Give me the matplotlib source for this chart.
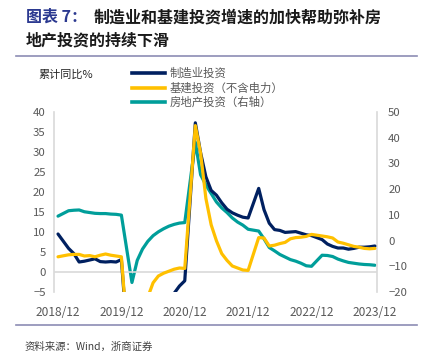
import matplotlib
matplotlib.use('Agg')
import matplotlib.pyplot as plt
from matplotlib.lines import Line2D

plt.rcParams['font.family'] = ['Noto Sans CJK SC', 'DejaVu Sans']

# months (cumulative data, no January)
months = ['2018-12',
          '2019-02', '2019-03', '2019-04', '2019-05', '2019-06', '2019-07', '2019-08', '2019-09', '2019-10', '2019-11', '2019-12',
          '2020-02', '2020-03', '2020-04', '2020-05', '2020-06', '2020-07', '2020-08', '2020-09', '2020-10', '2020-11', '2020-12',
          '2021-02', '2021-03', '2021-04', '2021-05', '2021-06', '2021-07', '2021-08', '2021-09', '2021-10', '2021-11', '2021-12',
          '2022-02', '2022-03', '2022-04', '2022-05', '2022-06', '2022-07', '2022-08', '2022-09', '2022-10', '2022-11', '2022-12',
          '2023-02', '2023-03', '2023-04', '2023-05', '2023-06', '2023-07', '2023-08', '2023-09', '2023-10', '2023-11', '2023-12']

manufacturing = [9.5,
                 5.9, 4.6, 2.5, 2.7, 3.0, 3.3, 2.6, 2.5, 2.6, 2.5, 3.1,
                 -31.5, -25.2, -18.8, -14.8, -11.7, -10.2, -8.1, -6.5, -5.3, -3.5, -2.2,
                 37.3, 29.8, 23.8, 20.4, 19.2, 17.3, 15.7, 14.8, 14.2, 13.7, 13.5,
                 20.9, 15.6, 12.2, 10.6, 10.4, 9.9, 10.0, 10.1, 9.7, 9.3, 9.1,
                 8.1, 7.0, 6.4, 6.0, 6.0, 5.7, 5.9, 6.2, 6.2, 6.3, 6.5]

infrastructure = [3.8,
                  4.3, 4.4, 4.4, 4.0, 4.1, 3.8, 4.2, 4.5, 4.2, 4.0, 3.8,
                  -30.3, -19.7, -11.8, -6.3, -2.7, -1.0, -0.3, 0.2, 0.7, 1.0, 0.9,
                  36.6, 29.7, 18.4, 11.8, 7.8, 4.6, 2.9, 1.5, 1.0, 0.5, 0.4,
                  8.6, 8.5, 6.5, 6.7, 7.1, 7.4, 8.3, 8.6, 8.7, 8.9, 9.4,
                  9.0, 8.8, 8.5, 7.5, 7.2, 6.8, 6.4, 6.2, 5.9, 5.8, 5.9]

real_estate = [9.5,
               11.6, 11.8, 11.9, 11.2, 10.9, 10.6, 10.5, 10.5, 10.3, 10.2, 9.9,
               -16.3, -7.7, -3.3, -0.3, 1.9, 3.4, 4.6, 5.6, 6.3, 6.8, 7.0,
               38.3, 25.6, 21.6, 18.3, 15.0, 12.7, 10.9, 8.8, 7.2, 6.0, 4.4,
               3.7, 0.7, -2.7, -4.0, -5.4, -6.4, -7.4, -8.0, -8.8, -9.8, -10.0,
               -5.7, -5.8, -6.2, -7.2, -7.9, -8.5, -8.8, -9.1, -9.3, -9.4, -9.6]

tick_labels = ['2018/12', '2019/12', '2020/12', '2021/12', '2022/12', '2023/12']

# month index from 2018/12
x = [(int(m[:4]) - 2018) * 12 + int(m[5:]) - 12 for m in months]

c_blue = '#002060'
c_yellow = '#FFC000'
c_teal = '#009E9A'
c_text = '#595959'

fig = plt.figure(figsize=(4.28, 3.53), dpi=100)
ax = fig.add_axes([54/428, 1-292/353, 323/428, 180/353])
ax2 = ax.twinx()

ax.plot(x, manufacturing, color=c_blue, lw=2.3, solid_capstyle='round', zorder=3)
ax.plot(x, infrastructure, color=c_yellow, lw=2.3, solid_capstyle='round', zorder=4)
ax2.plot(x, real_estate, color=c_teal, lw=2.3, solid_capstyle='round')
ax.set_zorder(2)
ax.patch.set_visible(False)

ax.set_ylim(-5, 40)
ax.set_yticks(range(-5, 41, 5))
ax2.set_ylim(-20, 50)
ax2.set_yticks(range(-20, 51, 10))
ax.set_xlim(-0.76, 60.4)
ax.set_xticks(range(0, 61, 12))
ax.set_xticklabels(tick_labels)

ax.axhline(0, color='#D9D9D9', lw=1.2, zorder=1)
for a in (ax, ax2):
    for s in a.spines.values():
        s.set_visible(False)
    a.tick_params(length=0, labelsize=8.2, colors=c_text)
ax.spines['left'].set_visible(True)
ax.spines['left'].set_color('#D9D9D9')
ax.spines['left'].set_linewidth(1.2)
ax2.spines['right'].set_visible(True)
ax2.spines['right'].set_color('#D9D9D9')
ax2.spines['right'].set_linewidth(1.2)
ax.tick_params(axis='x', labelsize=8.6, pad=10)
ax.tick_params(axis='y', pad=6)
ax2.tick_params(axis='y', pad=8)

# legend
handles = [Line2D([], [], color=c_blue, lw=2.6),
           Line2D([], [], color=c_yellow, lw=2.6),
           Line2D([], [], color=c_teal, lw=2.6)]
labels = ['制造业投资', '基建投资（不含电力）', '房地产投资（右轴）']
leg = fig.legend(handles, labels, loc='upper left', bbox_to_anchor=(127/428, 1-63/353),
                 frameon=False, fontsize=8.2, handlelength=2.9, handletextpad=0.45,
                 labelspacing=0.3, borderaxespad=0)
for t in leg.get_texts():
    t.set_color(c_text)

fig.text(38/428, 1-75/353, '累计同比%', fontsize=8, color='#262626', va='center')

# title
fig.text(26/428, 1-17/353, '图表 7：', fontsize=11.5, fontweight='bold', color='#2B3990', va='center')
fig.text(94/428, 1-17/353, '制造业和基建投资增速的加快帮助弥补房', fontsize=11.5,
         fontweight='bold', color='#1A1A1A', va='center')
fig.text(26/428, 1-40/353, '地产投资的持续下滑', fontsize=11.5, fontweight='bold',
         color='#1A1A1A', va='center')

fig.add_artist(Line2D([16/428, 417/428], [1-56/353, 1-56/353], color='#8C8CB4', lw=1.2))
fig.add_artist(Line2D([16/428, 417/428], [1-325/353, 1-325/353], color='#8C8CB4', lw=1.2))

fig.text(25/428, 1/353, '资料来源：Wind，浙商证券', fontsize=7.5, color='#404040', va='bottom')

fig.savefig('out.png', dpi=100, facecolor='white')
